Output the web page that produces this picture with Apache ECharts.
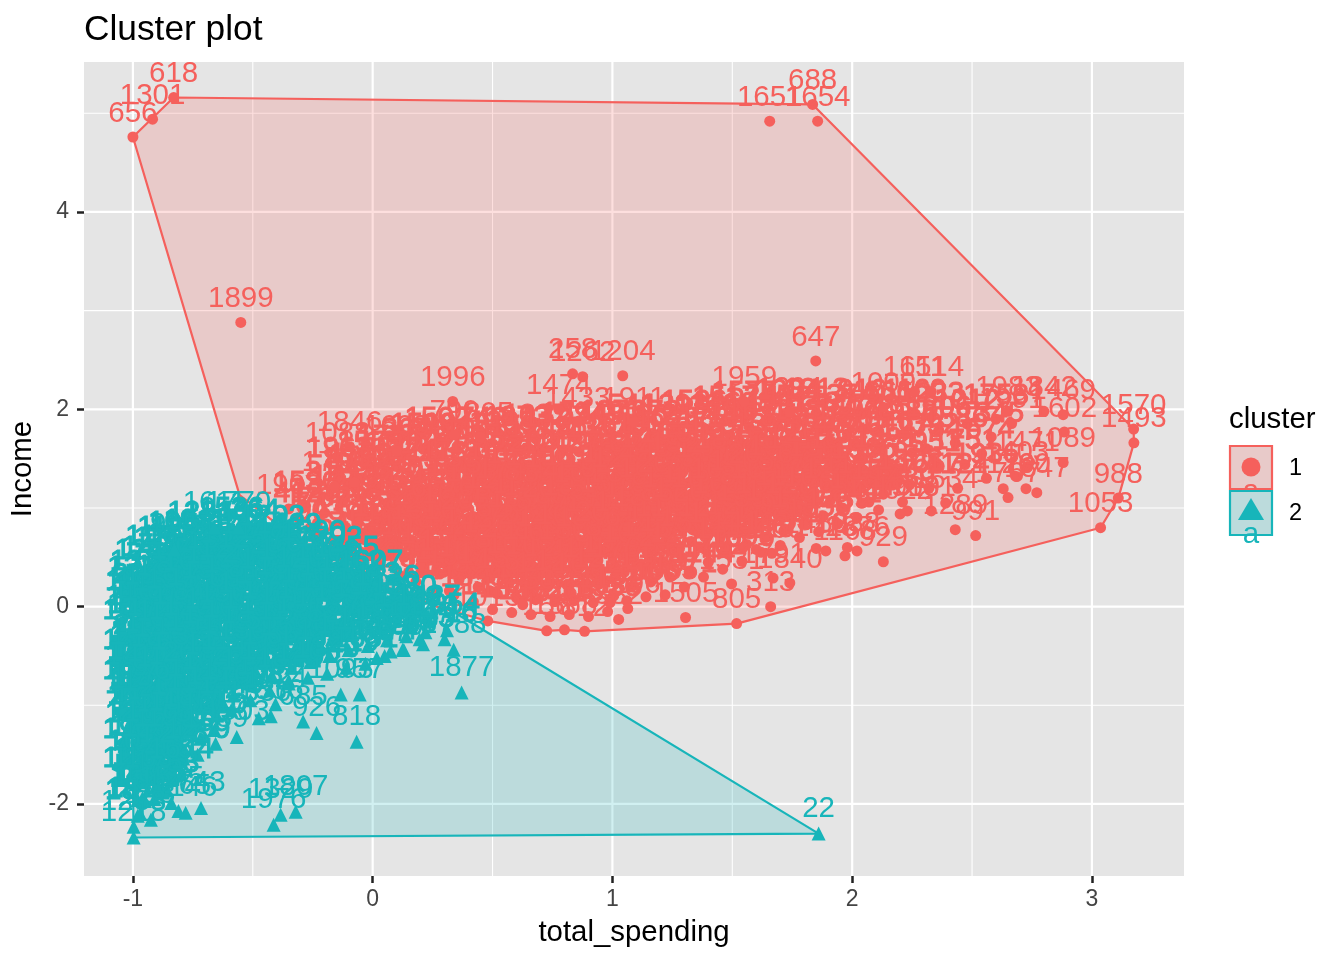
<!DOCTYPE html>
<html><head><meta charset="utf-8">
<script src="https://cdn.jsdelivr.net/npm/echarts@6/dist/echarts.min.js"></script>
<style>html,body{margin:0;padding:0;background:#fff}#c{width:1344px;height:960px}</style></head>
<body><div id="c"></div>
<script>
const RED='#F5605C', TEAL='#17B5BA';
const xRange=[-1.204,3.384], yRange=[-2.73,5.52];
const xTicks=[-1,0,1,2,3], yTicks=[-2,0,2,4];
const xMinor=[-.5,.5,1.5,2.5], yMinor=[-1,1,3,5];

const c1Hull=[[-1,4.76],[-.83,5.16],[1.835,5.09],[3.174,1.8],[3.175,1.66],[3.11,1.1],[3.036,.8],[1.518,-.172],[.884,-.25],[.8,-.235],[.726,-.245],[.48,-.145],[.267,0],[-.18,.425],[-.555,1.13]];
const c2Hull=[[-.997,-2.34],[1.86,-2.3],[.24,.09],[-.1,.5],[-.6,.82],[-.9,.5],[-1.01,.2]];

const c1Named=[[-1,4.76,656],[-.918,4.94,1301],[-.83,5.16,618],[1.656,4.92,1651],[1.856,4.92,1654],[1.835,5.09,688],[-.55,2.88,1899],[1.848,2.49,647],[.834,2.36,258],[.876,2.33,1262],[1.043,2.34,1204],[.334,2.08,1996],[.776,2,1474],[.855,1.87,1433],[1.09,1.87,1911],[1.55,2.08,1959],[2.26,2.18,1611],[2.33,2.18,1514],[2.13,2.02,1009],[1.74,1.97,1294],[-.096,1.62,1846],[-.146,1.51,1088],[-.35,.99,1903],[-.16,1.22,1704],[-.075,1.26,1633],[.1,1.58,1698],[.34,1.74,790],[.45,1.72,1805],[3.174,1.8,1570],[3.175,1.66,1493],[3.11,1.1,988],[3.036,.8,1053],[1.518,-.172,805],[.884,-.25,812],[.8,-.235,1568],[.726,-.245,156],[.48,-.145,1013],[1.305,-.11,1505],[1.026,-.13,382],[1.064,-.02,1296],[.99,.04,1127],[.626,.02,1450],[1.497,.23,1531],[1.66,0,313],[1.74,.24,1840],[1.67,.29,1791],[1.6,.58,1348],[1.545,.6,1416],[1.665,.54,1160],[1.85,.59,1458],[1.89,.565,1728],[1.97,.515,1168],[1.98,.6,1038],[2.02,.565,1876],[2.13,.455,929],[2.43,.78,1289],[2.515,.72,991],[2.33,.97,631],[2.39,1.05,1534],[2.23,.97,1919],[2.2,.94,1022],[2.65,1.98,1983],[2.8,1.98,1842],[2.88,1.945,1469],[2.665,1.855,1991],[2.885,1.77,1602],[2.88,1.46,1089],[2.73,1.42,1471],[2.685,1.32,1403],[2.63,1.195,1170],[2.725,1.195,260],[2.77,1.155,1847],[2.65,1.105,1767]];

const c1Core=[[1.03,1.32,1312],[1.24,1.33,547],[1.45,1.31,1890],[1.66,1.32,226],[1.82,1.3,1475],
[.45,1.07,1001],[.65,1.08,1733],[.86,1.06,394],[1.07,1.07,1612],[1.28,1.08,821],[1.49,1.06,1255],[1.7,1.07,1967],[1.91,1.08,608],[2.07,1.06,1366],
[.2,.83,1582],[.4,.84,271],[.61,.82,1143],[.82,.83,1809],[1.03,.84,930],[1.24,.82,1426],[1.45,.83,713],[1.61,.82,1694],[1.72,.78,1527],
[.03,.59,1250],[.24,.6,486],[.45,.58,1977],[.65,.59,1338],[.86,.6,1062],[1.07,.58,1521],[1.28,.59,845],[1.47,.6,1183],
[-.05,.34,1718],[.15,.35,334],[.36,.33,1207],[.57,.34,1640],[.78,.35,982],[.95,.34,1349],[1.16,.46,627],[.32,.16,1805],[.49,.16,1433],[.65,.17,1099],[.82,.16,1772]];

const c1Mass=[[-.31,.9,412],[-.28,1.02,1530],[-.26,.8,77],[-.22,.72,903],[-.2,.95,1266],[-.18,1.12,318],[-.23,.85,1702],
[-.13,.6,541],[-.11,.78,1188],[-.09,.93,66],[-.12,1.08,1421],[-.1,1.24,870],[-.14,1.36,1963],
[-.05,.5,297],[-.03,.68,1640],[-.06,.85,733],[-.04,1,2011],[-.02,1.15,455],[-.05,1.3,1109],[-.01,1.42,1555],
[.03,.42,604],[.05,.6,1322],[.02,.76,189],[.04,.92,1877],[.06,1.05,942],[.03,1.22,1490],[.05,1.36,251],[.07,1.48,1735],
[.11,.32,1208],[.13,.5,733],[.1,.66,1613],[.12,.82,85],[.14,.98,1379],[.11,1.13,620],[.13,1.28,2044],[.1,1.42,1151],[.14,1.55,367],
[.18,.25,1841],[.2,.41,519],[.17,.58,1072],[.21,.73,1686],[.19,.88,293],[.18,1.04,1957],[.22,1.18,808],[.2,1.34,1247],[.17,1.49,446],[.21,1.6,1598],
[.26,.17,1730],[.28,.33,152],[.25,.49,1419],[.29,.64,877],[.27,.8,2102],[.26,.96,634],[.3,1.1,1283],[.28,1.25,39],[.25,1.4,1761],[.29,1.54,981],[.27,1.66,1502],
[.34,.12,706],[.36,.27,1914],[.33,.42,1356],[.37,.58,228],[.35,.73,1622],[.34,.89,1015],[.38,1.03,573],[.36,1.18,1806],[.33,1.32,1134],[.37,1.47,490],[.35,1.6,1948],
[.42,.05,1393],[.44,.2,837],[.41,.36,1698],[.45,.52,124],[.43,.68,1267],[.42,.83,2007],[.46,.97,659],[.44,1.12,1540],[.41,1.26,301],[.45,1.41,1822],[.43,1.55,1046],[.46,1.66,742],
[.5,-.03,1175],[.52,.13,268],[.49,.29,1733],[.53,.44,886],[.51,.6,1466],[.5,.75,52],[.54,.9,1918],[.52,1.05,1230],[.49,1.2,597],[.53,1.34,1679],[.51,1.48,934],[.54,1.62,1388],
[.58,-.06,1849],[.6,.09,410],[.57,.24,1527],[.61,.39,1096],[.59,.55,2088],[.58,.7,763],[.62,.85,1351],[.6,1,180],[.57,1.15,1744],[.61,1.3,1021],[.59,1.44,653],[.62,1.58,1597],[.6,1.68,1873],
[.66,-.08,1302],[.68,.07,946],[.65,.22,339],[.69,.38,1655],[.67,.53,1118],[.66,.68,2129],[.7,.83,577],[.68,.98,1463],[.65,1.13,815],[.69,1.28,1906],[.67,1.42,203],[.7,1.56,1244],[.68,1.7,1037],
[.74,-.1,1610],[.76,.05,72],[.73,.2,1782],[.77,.36,1289],[.75,.51,690],[.74,.66,1435],[.78,.81,998],[.76,.96,2056],[.73,1.11,316],[.77,1.26,1561],[.75,1.4,1143],[.78,1.54,824],[.76,1.68,1727],
[.82,-.08,536],[.84,.06,1939],[.81,.22,1268],[.85,.37,147],[.83,.53,1503],[.82,.68,1061],[.86,.83,735],[.84,.98,1811],[.81,1.13,428],[.85,1.28,1336],[.83,1.42,2093],[.86,1.57,962],[.84,1.72,1594],
[.9,-.1,1183],[.92,.04,607],[.89,.19,1672],[.93,.35,1254],[.91,.5,88],[.9,.66,1839],[.94,.81,1447],[.92,.96,529],[.89,1.11,1015],[.93,1.26,1768],[.91,1.41,276],[.94,1.56,1382],[.92,1.7,1149],
[.98,-.05,1936],[1,.1,353],[.97,.25,1217],[1.01,.4,1595],[.99,.56,840],[.98,.71,2019],[1.02,.86,164],[1,1.01,1372],[.97,1.16,945],[1.01,1.31,1658],[.99,1.46,711],[1.02,1.6,1829],[1,1.74,1073],
[1.06,.06,1510],[1.08,.2,264],[1.05,.35,1788],[1.09,.5,1039],[1.07,.66,618],[1.06,.81,1422],[1.1,.96,1960],[1.08,1.11,395],[1.05,1.26,1281],[1.09,1.41,870],[1.07,1.56,1701],[1.1,1.7,1166],[1.08,1.8,541],
[1.14,.1,2066],[1.16,.25,1328],[1.13,.4,724],[1.17,.56,1489],[1.15,.71,111],[1.14,.86,1854],[1.18,1.01,986],[1.16,1.16,1627],[1.13,1.31,433],[1.17,1.46,1210],[1.15,1.6,1999],[1.18,1.74,672],
[1.22,.12,1065],[1.24,.3,1547],[1.21,.46,239],[1.25,.61,1792],[1.23,.76,1107],[1.22,.91,855],[1.26,1.06,1316],[1.24,1.21,2032],[1.21,1.36,488],[1.25,1.51,1645],[1.23,1.66,1028],[1.26,1.8,1393],
[1.3,.2,1871],[1.32,.35,614],[1.29,.5,1239],[1.33,.66,1470],[1.31,.81,95],[1.3,.96,1711],[1.34,1.11,1052],[1.32,1.26,756],[1.29,1.41,1923],[1.33,1.56,1358],[1.31,1.7,217],[1.34,1.84,1586],
[1.38,.3,1144],[1.4,.45,1816],[1.37,.6,503],[1.41,.76,1265],[1.39,.91,2078],[1.38,1.06,1673],[1.42,1.21,342],[1.4,1.36,1429],[1.37,1.51,905],[1.41,1.66,1752],[1.39,1.8,1196],
[1.46,.38,782],[1.48,.54,1344],[1.45,.7,1908],[1.49,.85,136],[1.47,1,1620],[1.46,1.15,1078],[1.5,1.3,564],[1.48,1.45,1881],[1.45,1.6,1233],[1.49,1.74,929],[1.47,1.88,1517],
[1.54,.46,1696],[1.56,.63,422],[1.53,.78,1271],[1.57,.93,1944],[1.55,1.08,859],[1.54,1.23,1405],[1.58,1.38,73],[1.56,1.53,1763],[1.53,1.68,1092],[1.57,1.82,638],[1.55,1.93,1577],
[1.62,.55,1218],[1.64,.7,1860],[1.61,.85,396],[1.65,1,1526],[1.63,1.15,1049],[1.62,1.3,2021],[1.66,1.45,710],[1.64,1.6,1338],[1.61,1.75,1672],[1.65,1.89,245],
[1.7,.62,1453],[1.72,.78,921],[1.69,.93,1785],[1.73,1.08,1156],[1.71,1.23,587],[1.7,1.38,1999],[1.74,1.53,1304],[1.72,1.68,848],[1.69,1.83,1611],[1.73,1.95,1084],
[1.78,.7,331],[1.8,.85,1742],[1.77,1,1233],[1.81,1.15,1958],[1.79,1.3,674],[1.78,1.45,1412],[1.82,1.6,102],[1.8,1.75,1833],[1.77,1.88,1125],
[1.86,.76,1550],[1.88,.92,977],[1.85,1.07,1670],[1.89,1.22,258],[1.87,1.37,1369],[1.86,1.52,2040],[1.9,1.67,803],[1.88,1.82,1487],[1.85,1.96,1213],
[1.94,.84,1739],[1.96,1,622],[1.93,1.15,1256],[1.97,1.3,1902],[1.95,1.45,1011],[1.94,1.6,467],[1.98,1.75,1596],[1.96,1.9,1374],
[2.02,.9,841],[2.04,1.05,1683],[2.01,1.2,1127],[2.05,1.35,1966],[2.03,1.5,549],[2.02,1.65,1305],[2.06,1.8,1778],[2.04,1.95,916],
[2.11,.98,1240],[2.13,1.14,1517],[2.1,1.3,382],[2.14,1.46,1891],[2.12,1.62,1046],[2.11,1.78,1725],[2.15,1.93,666],
[2.21,1.06,1439],[2.24,1.24,1808],[2.2,1.4,735],[2.25,1.56,1275],[2.22,1.74,1988],[2.26,1.95,1160],
[2.32,1.2,1657],[2.35,1.42,951],[2.31,1.6,1392],[2.36,1.78,1806],[2.33,1.92,1233],
[2.44,1.2,1124],[2.47,1.44,1751],[2.43,1.66,1586],[2.48,1.85,1012],
[2.56,1.3,1936],[2.54,1.55,1674],[2.58,1.72,1345],[2.6,1.9,1758]];

const c2Named=[[1.86,-2.3,22],[.338,-.436,1788],[.371,-.87,1877],[-.067,-1.37,818],[-.234,-1.28,926],[-.29,-1.165,685],[-.133,-.89,1093],[-.054,-.89,957],[-.655,-1.39,1639],[-.567,-1.32,1503],[-.716,-2.04,743],[-.78,-2.09,1146],[-.81,-2.07,1765],[-.84,-1.99,1575],[-.925,-2.16,183],[-.997,-2.23,1283],[-.997,-2.34,1218],[-.413,-2.21,1976],[-.384,-2.11,1329],[-.321,-2.08,1807],[-.425,-1.11,1836],[-.475,-1.13,1330],[.196,-.33,1447],[.125,-.436,1207],[.075,-.455,1390],[.017,-.52,1667],[-.405,-.99,1124],[-.826,.58,995],[-.66,.8,1611],[-.56,.8,1770]];

const c2Core=[[-.555,.43,1103],[-.43,.44,725],[-.76,.22,1381],[-.555,.23,1946],[-.35,.21,610],[-.22,.22,1527],
[-.93,-.02,1090],[-.72,-.01,1811],[-.51,-.03,347],[-.3,-.02,1262],[-.1,-.01,1699],
[-.95,-.26,533],[-.76,-.25,1420],[-.555,-.27,1875],[-.35,-.26,1003],[-.14,-.25,1336],[.05,-.26,1748],
[-.95,-.51,1157],[-.76,-.5,268],[-.555,-.52,1604],[-.35,-.51,1989],[-.18,-.5,842],
[-.95,-.75,1371],[-.76,-.74,1736],[-.555,-.76,929],[-.35,-.75,1245],
[-.95,-.99,1560],[-.78,-.98,401],[-.62,-1,1833],[-.95,-1.24,1119],[-.78,-1.23,1652],[-.95,-1.48,754],[-.88,-1.47,1296],[-.93,-1.72,1908],[-.95,-1.97,1444]];

const c2Mass=[[-.98,-2.12,1871],[-.98,-1.96,163],[-.99,-1.8,1244],[-.98,-1.65,702],[-.99,-1.5,1966],[-.98,-1.34,1315],[-.99,-1.2,481],[-.98,-1.05,1728],[-.99,-.9,1096],[-.98,-.75,1533],[-.99,-.6,1402],[-.98,-.45,274],[-.99,-.3,1684],[-.98,-.15,1157],[-.98,0,1929],[-.97,.14,1312],
[-.97,-2.1,1812],[-.96,-1.94,640],[-.95,-1.78,1375],[-.97,-1.62,1041],[-.96,-1.47,1798],[-.95,-1.32,235],[-.97,-1.16,1460],[-.96,-1,1922],[-.95,-.85,817],[-.97,-.7,1263],[-.96,-.55,1590],[-.95,-.4,94],[-.97,-.24,1736],[-.96,-.08,1118],[-.95,.07,2025],[-.96,.2,1377],[-.94,.31,1251],
[-.91,-1.95,1826],[-.9,-1.8,1033],[-.89,-1.64,540],[-.91,-1.48,1291],[-.9,-1.33,1874],[-.89,-1.18,306],[-.91,-1.02,1449],[-.9,-.87,996],[-.89,-.72,1609],[-.91,-.57,187],[-.9,-.42,1343],[-.89,-.26,1718],[-.91,-.1,1072],[-.9,.06,1940],[-.89,.2,623],[-.91,.34,1485],[-.9,.45,1192],
[-.86,-1.85,1753],[-.85,-1.7,456],[-.84,-1.54,1217],[-.86,-1.38,1660],[-.85,-1.23,1009],[-.84,-1.08,2066],[-.86,-.92,733],[-.85,-.77,1421],[-.84,-.62,59],[-.86,-.47,1838],[-.85,-.31,1236],[-.84,-.16,915],[-.86,0,1574],[-.85,.15,1368],[-.84,.3,412],[-.86,.43,1705],[-.85,.55,1120],
[-.8,-1.7,1644],[-.79,-1.54,278],[-.81,-1.38,1901],[-.8,-1.22,1084],[-.79,-1.06,1497],[-.81,-.9,666],[-.8,-.75,1759],[-.79,-.6,1323],[-.81,-.45,120],[-.8,-.3,1548],[-.79,-.14,1176],[-.81,.02,1982],[-.8,.17,843],[-.79,.32,1416],[-.81,.46,1633],[-.8,.6,1058],
[-.73,-1.5,1299],[-.72,-1.34,591],[-.74,-1.18,1857],[-.73,-1.02,1140],[-.72,-.87,1678],[-.74,-.72,2012],[-.73,-.56,378],[-.72,-.41,1525],[-.74,-.26,1203],[-.73,-.1,844],[-.72,.05,1790],[-.74,.2,1037],[-.73,.35,1462],[-.72,.5,196],[-.74,.62,1911],[-.72,.7,1281],
[-.66,-1.25,1610],[-.65,-1.1,742],[-.64,-.95,1372],[-.66,-.8,1067],[-.65,-.65,1943],[-.64,-.5,515],[-.66,-.34,1752],[-.65,-.18,1231],[-.64,-.03,33],[-.66,.12,1584],[-.65,.27,1165],[-.64,.42,1829],[-.66,.56,907],[-.65,.7,1340],
[-.59,-1.05,1449],[-.58,-.9,1788],[-.57,-.75,261],[-.59,-.6,1113],[-.58,-.44,1655],[-.57,-.28,1026],[-.59,-.12,1968],[-.58,.03,690],[-.57,.18,1417],[-.59,.33,1274],[-.58,.48,1800],[-.57,.62,152],[-.59,.74,1536],
[-.51,-.95,1098],[-.5,-.8,1713],[-.49,-.65,437],[-.51,-.5,1306],[-.5,-.34,1878],[-.49,-.18,1019],[-.51,-.02,1572],[-.5,.13,819],[-.49,.28,2037],[-.51,.43,1245],[-.5,.58,1654],[-.49,.72,364],
[-.43,-.85,1461],[-.42,-.7,1132],[-.41,-.55,1769],[-.43,-.4,582],[-.42,-.24,1397],[-.41,-.08,1925],[-.43,.07,1051],[-.42,.22,1618],[-.41,.37,207],[-.43,.52,1483],[-.42,.66,1202],
[-.35,-.78,1841],[-.34,-.62,931],[-.33,-.46,1550],[-.35,-.3,1174],[-.34,-.14,1692],[-.33,.01,406],[-.35,.16,1353],[-.34,.31,1977],[-.33,.46,764],[-.35,.58,1429],
[-.27,-.72,1266],[-.26,-.56,1733],[-.25,-.4,88],[-.27,-.24,1512],[-.26,-.08,1085],[-.25,.08,1863],[-.27,.23,1206],[-.26,.38,647],[-.25,.5,1590],
[-.19,-.68,1340],[-.18,-.5,1957],[-.17,-.33,523],[-.19,-.16,1778],[-.18,0,1147],[-.17,.15,1626],[-.19,.3,1008],[-.18,.44,1392],
[-.11,-.62,1219],[-.1,-.44,1704],[-.09,-.26,379],[-.11,-.1,1536],[-.1,.06,1899],[-.09,.2,1062],[-.11,.34,1455],
[-.03,-.58,1681],[-.02,-.4,1128],[-.01,-.22,758],[-.03,-.06,1944],[-.02,.08,1313],[-.01,.2,1607],
[.05,-.5,1074],[.06,-.34,1852],[.07,-.18,431],[.05,-.04,1509],[.06,.05,1226],
[.13,-.44,1765],[.14,-.3,1091],[.15,-.16,1638],[.13,-.05,1380],
[.21,-.38,1183],[.22,-.26,1970],[.23,-.15,1427],[.3,-.33,1716],[.31,-.24,1054]];

const chart=echarts.init(document.getElementById('c'));
const FONT='"Liberation Sans",Arial,sans-serif';
const gridData=[...xTicks.map(v=>[v,0,2.2]),...xMinor.map(v=>[v,0,1.1]),...yTicks.map(v=>[v,1,2.2]),...yMinor.map(v=>[v,1,1.1])];
function gridItem(p,api){
  const v=api.value(0),w=api.value(2);
  const a=api.value(1)===0?api.coord([v,yRange[0]]):api.coord([xRange[0],v]);
  const b=api.value(1)===0?api.coord([v,yRange[1]]):api.coord([xRange[1],v]);
  return {type:'line',shape:{x1:a[0],y1:a[1],x2:b[0],y2:b[1]},style:{stroke:'#fff',lineWidth:w}};
}
function hullSeries(pts,color,fill,z){
  return {type:'custom',z,silent:true,data:pts,encode:{x:0,y:1},clip:true,
    renderItem(p,api){
      if(p.dataIndex!==0)return;
      return {type:'polygon',shape:{points:pts.map(q=>api.coord(q))},style:{fill,stroke:color,lineWidth:2.2,lineJoin:'round'}};
    }};
}
function pts(name,data,color,symbol,size,z,thick){
  return {type:'scatter',name,z,silent:true,symbol,symbolSize:size,animation:false,progressive:0,
    data:data.map(d=>({value:[d[0],d[1]],name:String(d[2])})),
    itemStyle:{color,opacity:1},
    label:{show:true,position:'top',distance:3,formatter:'{b}',fontFamily:FONT,fontSize:29.5,lineHeight:30,color,
      textBorderColor:thick?color:'transparent',textBorderWidth:thick||0}};
}
const lg=[
 {type:'text',style:{x:1229,y:420,text:'cluster',font:'29.4px '+FONT,fill:'#000',textVerticalAlign:'middle'}},
 {type:'rect',shape:{x:1230,y:446,width:42,height:43},style:{fill:'#E5E5E5'}},
 {type:'rect',shape:{x:1230,y:446,width:42,height:43},style:{fill:'rgba(245,96,92,.2)',stroke:RED,lineWidth:2.2}},
 {type:'circle',shape:{cx:1251,cy:467,r:9.5},style:{fill:RED}},
 {type:'text',style:{x:1251,y:492,text:'a',font:'29.5px '+FONT,fill:RED,textAlign:'center',textVerticalAlign:'middle'}},
 {type:'rect',shape:{x:1230,y:491,width:42,height:44},style:{fill:'#E5E5E5'}},
 {type:'rect',shape:{x:1230,y:491,width:42,height:44},style:{fill:'rgba(23,181,186,.2)',stroke:TEAL,lineWidth:2.2}},
 {type:'polygon',shape:{points:[[1251,498],[1264,520],[1238,520]]},style:{fill:TEAL}},
 {type:'text',style:{x:1251,y:535,text:'a',font:'29.5px '+FONT,fill:TEAL,textAlign:'center',textVerticalAlign:'middle'}},
 {type:'text',style:{x:1289,y:469,text:'1',font:'23.5px '+FONT,fill:'#000',textVerticalAlign:'middle'}},
 {type:'text',style:{x:1289,y:514,text:'2',font:'23.5px '+FONT,fill:'#000',textVerticalAlign:'middle'}}
];
chart.setOption({
  animation:false,
  title:{text:'Cluster plot',left:79,top:8,textStyle:{fontFamily:FONT,fontSize:35.3,fontWeight:'normal',color:'#000'}},
  grid:{left:84,top:62,right:160,bottom:84,show:true,backgroundColor:'#E5E5E5',borderWidth:0,outerBoundsMode:'none',containLabel:false},
  xAxis:{type:'value',min:xRange[0],max:xRange[1],name:'total_spending',nameLocation:'middle',nameGap:42,
    nameTextStyle:{fontFamily:FONT,fontSize:29.4,color:'#000'},
    axisLine:{show:false,onZero:false},splitLine:{show:false},
    axisTick:{show:true,length:7,customValues:xTicks,lineStyle:{color:'#222',width:2.5}},
    axisLabel:{customValues:xTicks,fontFamily:FONT,fontSize:23,color:'#444',margin:12,formatter:v=>String(v)}},
  yAxis:{type:'value',min:yRange[0],max:yRange[1],name:'Income',nameLocation:'middle',nameGap:40,
    nameTextStyle:{fontFamily:FONT,fontSize:29.4,color:'#000'},
    axisLine:{show:false,onZero:false},splitLine:{show:false},
    axisTick:{show:true,length:7,customValues:yTicks,lineStyle:{color:'#222',width:2.5}},
    axisLabel:{customValues:yTicks,fontFamily:FONT,fontSize:23,color:'#444',margin:15,padding:[4,0,0,0],formatter:v=>String(v)}},
  graphic:lg,
  series:[
    {type:'custom',z:1,silent:true,data:gridData,renderItem:gridItem,encode:{x:0}},
    hullSeries(c1Hull,RED,'rgba(245,96,92,.2)',2),
    hullSeries(c2Hull,TEAL,'rgba(23,181,186,.2)',3),
    pts('1c',c1Core,RED,'circle',11,4,6),
    pts('1',c1Mass,RED,'circle',11,5,1),
    pts('1n',c1Named,RED,'circle',11,6,0),
    pts('2c',c2Core,TEAL,'triangle',14,7,6),
    pts('2',c2Mass,TEAL,'triangle',14,8,1),
    pts('2n',c2Named,TEAL,'triangle',14,9,0)
  ]
});
</script></body></html>
